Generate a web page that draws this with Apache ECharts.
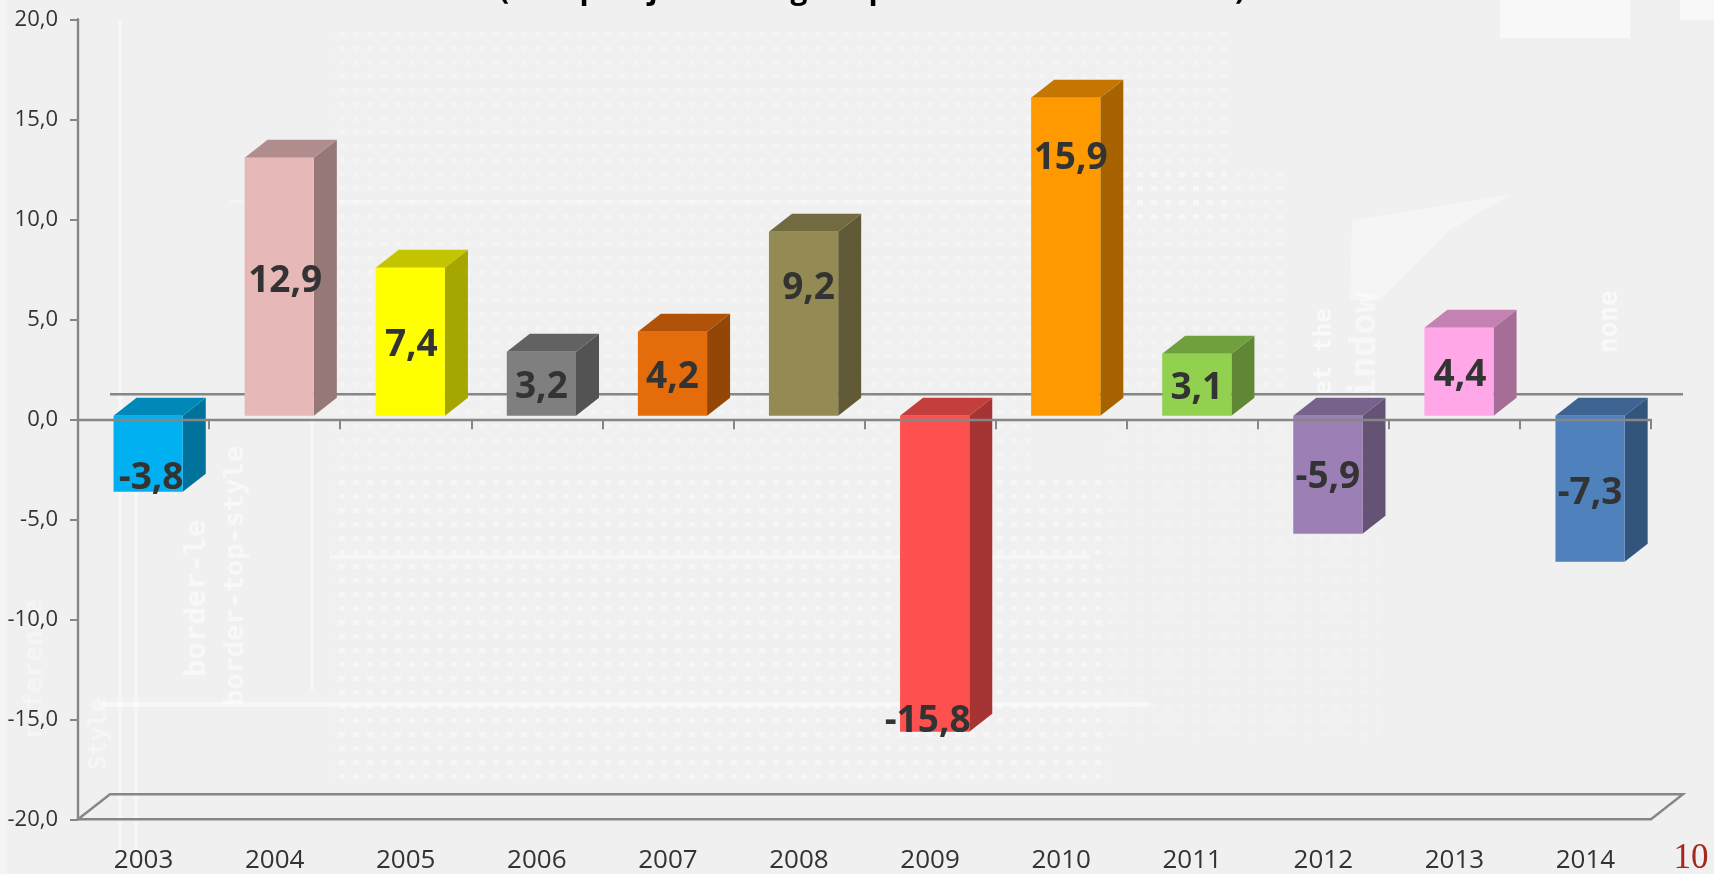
<!DOCTYPE html>
<html>
<head>
<meta charset="utf-8">
<title>chart</title>
<style>
  html, body { margin: 0; padding: 0; background: #f0f0f0; }
  #main { width: 1714px; height: 874px; }
</style>
<script src="https://cdn.jsdelivr.net/npm/echarts@6/dist/echarts.min.js"></script>
</head>
<body>
<div id="main"></div>
<script>
const years = ['2003', '2004', '2005', '2006', '2007', '2008', '2009', '2010', '2011', '2012', '2013', '2014'];
const values = [-3.8, 12.9, 7.4, 3.2, 4.2, 9.2, -15.8, 15.9, 3.1, -5.9, 4.4, -7.3];
const barColors = ['#00b0f0', '#e6b8b7', '#ffff00', '#7f7f7f', '#e46c0a', '#948a54', '#ff5050', '#ff9900', '#92d050', '#9b7fb5', '#ffa7e7', '#4f81bd'];

// the labels were moved by hand in the original, these are px from the middle of the bar face
const labelShift = {
  '2003': [3, 25], '2004': [6, -5], '2005': [1, 4], '2006': [0, 4], '2007': [0, 4], '2008': [5, -35],
  '2009': [-7, 148], '2010': [5, -98], '2011': [0, 4], '2012': [0, 3], '2013': [1, 4], '2014': [0, 5]
};

const FONT = '"Open Sans", "Noto Sans", sans-serif';
const TEXT = '#333333';
const AXIS = '#868686';
const FACE_DX = 4.6, FACE_DY = -3.6;   // bar face sits a bit off the axis
const DEPTH_DX = 23, DEPTH_DY = -18;   // 3d depth of a bar
const FLOOR_DX = 32, FLOOR_DY = -25;   // 3d depth of the floor

function shade(hex, k) {
  const n = parseInt(hex.slice(1), 16);
  const c = [n >> 16, (n >> 8) & 255, n & 255].map(function (v) { return Math.round(v * k); });
  return 'rgb(' + c.join(',') + ')';
}

function poly(points, fill) {
  return { type: 'polygon', shape: { points: points }, style: { fill: fill } };
}

function renderBar(params, api) {
  const idx = api.value(0);
  const val = api.value(1);
  const color = barColors[idx];
  const bandW = api.size([1, 0])[0];
  const w = bandW * 0.528;
  const base = api.coord([idx, 0]);
  const end = api.coord([idx, val]);
  const x0 = base[0] + FACE_DX - w / 2;
  const x1 = x0 + w;
  const top = Math.min(base[1], end[1]) + FACE_DY;
  const bot = Math.max(base[1], end[1]) + FACE_DY;
  const shift = labelShift[years[idx]];
  return {
    type: 'group',
    children: [
      poly([[x1, top], [x1 + DEPTH_DX, top + DEPTH_DY], [x1 + DEPTH_DX, bot + DEPTH_DY], [x1, bot]], shade(color, 0.65)),
      poly([[x0, top], [x0 + DEPTH_DX, top + DEPTH_DY], [x1 + DEPTH_DX, top + DEPTH_DY], [x1, top]], shade(color, 0.77)),
      { type: 'rect', shape: { x: x0, y: top, width: w, height: bot - top }, style: { fill: color } },
      {
        type: 'text',
        z2: 100,
        style: {
          x: (x0 + x1) / 2 + shift[0],
          y: (top + bot) / 2 + shift[1],
          text: String(val.toFixed(1)).replace('.', ','),
          align: 'center',
          verticalAlign: 'middle',
          fill: TEXT,
          font: 'bold 37px ' + FONT
        }
      }
    ]
  };
}

// back line at zero and the floor, both from the axis extents
function renderFloor(params, api) {
  const halfBand = api.size([1, 0])[0] / 2;
  const last = years.length - 1;
  const x0 = api.coord([0, 0])[0] - halfBand;
  const x1 = api.coord([last, 0])[0] + halfBand;
  const zero = api.coord([0, 0])[1];
  const floor = api.coord([0, -20])[1];
  const line = { stroke: AXIS, lineWidth: 2.4, fill: 'none' };
  return {
    type: 'group',
    children: [
      { type: 'line', shape: { x1: x0 + FLOOR_DX, y1: zero + FLOOR_DY, x2: x1 + FLOOR_DX, y2: zero + FLOOR_DY }, style: line },
      {
        type: 'polygon',
        shape: { points: [[x0, floor], [x0 + FLOOR_DX, floor + FLOOR_DY], [x1 + FLOOR_DX, floor + FLOOR_DY], [x1, floor]] },
        style: line
      }
    ]
  };
}

// faint photo behind the chart, only a rough copy of it
function dotPattern() {
  const c = document.createElement('canvas');
  c.width = 14;
  c.height = 14;
  const g = c.getContext('2d');
  g.fillStyle = '#ffffff';
  g.fillRect(3, 4, 6, 5);
  return c;
}
const dots = dotPattern();

function patch(x, y, w, h, opacity) {
  return { type: 'rect', z: -1, silent: true, shape: { x: x, y: y, width: w, height: h }, style: { fill: { image: dots, repeat: 'repeat' }, opacity: opacity } };
}
function band(x, y, w, h, opacity) {
  return { type: 'rect', z: -1, silent: true, shape: { x: x, y: y, width: w, height: h }, style: { fill: '#ffffff', opacity: opacity } };
}
function ghost(text, x, y, size, opacity) {
  return {
    type: 'text', z: -1, silent: true, x: x, y: y, rotation: Math.PI / 2,
    style: { text: text, fill: '#ffffff', opacity: opacity, font: 'bold ' + size + 'px "DejaVu Sans Mono", monospace', align: 'left', verticalAlign: 'middle' }
  };
}
const texture = [
  patch(330, 30, 900, 190, 0.25),
  patch(330, 220, 700, 260, 0.25),
  patch(330, 480, 780, 300, 0.4),
  patch(1110, 420, 270, 320, 0.15),
  patch(1030, 170, 260, 220, 0.3),
  band(118, 20, 4, 850, 0.4),
  band(134, 420, 4, 450, 0.4),
  band(310, 420, 4, 270, 0.4),
  band(100, 702, 1050, 5, 0.45),
  band(330, 555, 760, 4, 0.4),
  band(230, 200, 800, 3, 0.3),
  band(0, 0, 6, 874, 0.3),
  band(1500, 0, 130, 38, 0.5),
  band(1680, 0, 34, 20, 0.5),
  { type: 'polygon', z: -1, silent: true, shape: { points: [[1352, 220], [1510, 195], [1450, 230], [1380, 300], [1350, 300]] }, style: { fill: '#ffffff', opacity: 0.35 } },
  ghost('border-le', 197, 677, 29, 0.5),
  ghost('border-top-style', 236, 706, 27, 0.5),
  ghost('Style', 100, 770, 24, 0.4),
  ghost('reference', 35, 740, 26, 0.35),
  ghost('et the', 1325, 395, 24, 0.6),
  ghost('indow', 1366, 400, 36, 0.45),
  ghost('none', 1610, 353, 26, 0.6)
];

// only the bottoms of the cut off title are still on the page
const titleScraps = [['(', 504], ['p', 589], ['j', 653], ['g', 799], ['p', 878], [')', 1240]];
const titleGraphics = titleScraps.map(function (s) {
  return {
    type: 'text', silent: true,
    style: { x: s[1], y: 5, text: s[0], fill: '#000000', font: 'bold 30px ' + FONT, align: 'center', verticalAlign: 'bottom' }
  };
});

const chart = echarts.init(document.getElementById('main'));
chart.setOption({
  animation: false,
  backgroundColor: '#f0f0f0',
  grid: { left: 78, top: 19.3, width: 1573, height: 800, containLabel: false, outerBoundsMode: 'none' },
  xAxis: [
    {
      type: 'category',
      data: years,
      position: 'bottom',
      z: 5,
      axisLine: { onZero: true, lineStyle: { color: AXIS, width: 2.4 } },
      axisTick: { show: true, alignWithLabel: false, length: 10, inside: false, lineStyle: { color: AXIS, width: 2 } },
      axisLabel: { show: false }
    },
    {
      // second axis only for the year labels under the floor
      type: 'category',
      data: years,
      position: 'bottom',
      axisLine: { show: false },
      axisTick: { show: false },
      axisLabel: { color: TEXT, fontSize: 26, fontFamily: FONT, margin: 28, interval: 0 }
    }
  ],
  yAxis: {
    type: 'value',
    min: -20,
    max: 20,
    interval: 5,
    splitLine: { show: false },
    axisLine: { show: true, onZero: false, lineStyle: { color: AXIS, width: 2.4 } },
    axisTick: { show: true, length: 8, lineStyle: { color: AXIS, width: 2 } },
    axisLabel: {
      color: TEXT,
      fontSize: 22,
      fontFamily: FONT,
      margin: 20,
      padding: [9, 0, 0, 0],
      formatter: function (v) { return v.toFixed(1).replace('.', ','); }
    }
  },
  graphic: texture.concat(titleGraphics, [
    { type: 'text', silent: true, style: { x: 1691, y: 859, text: '10', fill: '#a5281f', font: '35px "Liberation Serif", serif', align: 'center', verticalAlign: 'middle' } }
  ]),
  series: [
    { type: 'custom', data: [[0, 0]], renderItem: renderFloor, z: 1, silent: true },
    {
      type: 'custom',
      data: values.map(function (v, i) { return [i, v]; }),
      encode: { x: 0, y: 1 },
      renderItem: renderBar,
      z: 2,
      silent: true
    }
  ]
});
</script>
</body>
</html>
